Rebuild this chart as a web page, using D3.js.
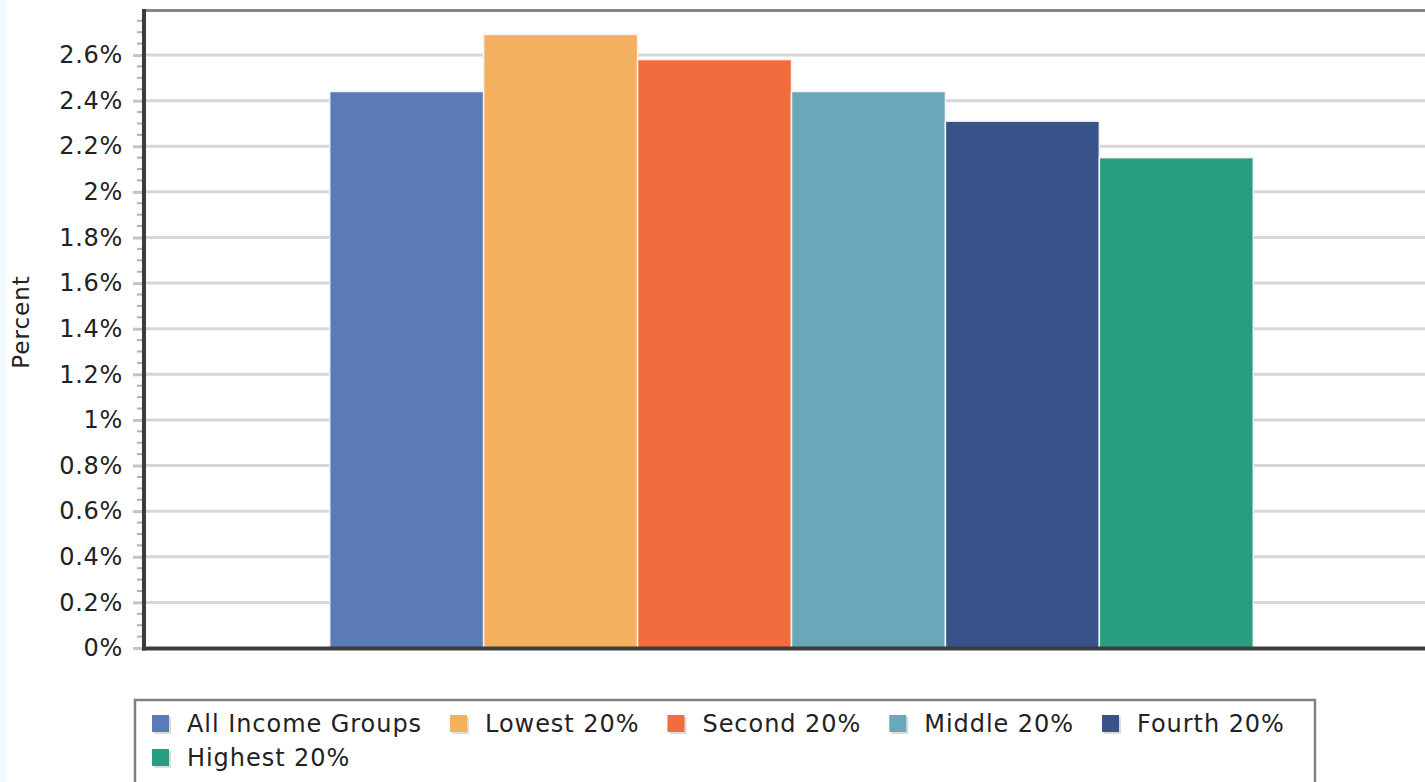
<!DOCTYPE html>
<html>
<head>
<meta charset="utf-8">
<script src="https://cdn.jsdelivr.net/npm/d3@7"></script>
<style>
  body { margin: 0; background: #fff; overflow: hidden; }
  svg text { font-family: "DejaVu Sans", Verdana, sans-serif; fill: #222; }
</style>
</head>
<body>
<svg id="chart"></svg>
<script>
(function() {

// data
const groups = ["Income"];
const seriesNames = ["All Income Groups", "Lowest 20%", "Second 20%", "Middle 20%", "Fourth 20%", "Highest 20%"];
const seriesValues = [2.44, 2.69, 2.58, 2.44, 2.31, 2.15];
const yTickValues = [0, 0.2, 0.4, 0.6, 0.8, 1.0, 1.2, 1.4, 1.6, 1.8, 2.0, 2.2, 2.4, 2.6];

const seriesColors = ["#5b7bb8", "#f3b05f", "#f36c3e", "#69a8b9", "#38528a", "#279e7f"];

const width = 1425, height = 782;
const plot = { left: 145, right: 1438, top: 9.4, bottom: 648 };

const svg = d3.select("#chart")
    .attr("width", width)
    .attr("height", height);

svg.append("rect")
    .attr("x", 0).attr("y", 0)
    .attr("width", 7).attr("height", height)
    .attr("fill", "#f4fafd");

const y = d3.scaleLinear().domain([0, 2.8]).range([plot.bottom, plot.top]);
const x0 = d3.scaleBand().domain(groups).range([plot.left, plot.right])
    .paddingInner(0).paddingOuter(0.2);
const x1 = d3.scaleBand().domain(seriesNames).range([0, x0.bandwidth()]);

// gridlines
svg.append("g")
    .selectAll("line")
    .data(yTickValues.filter(d => d > 0))
    .enter().append("line")
    .attr("x1", plot.left)
    .attr("x2", plot.right)
    .attr("y1", d => y(d))
    .attr("y2", d => y(d))
    .attr("stroke", "#d6d6d6")
    .attr("stroke-width", 3);

// bars
const data = seriesNames.map((name, i) => ({ group: groups[0], name: name, value: seriesValues[i], color: seriesColors[i] }));

svg.append("g")
    .selectAll(".bar")
    .data(data)
    .enter().append("rect")
    .attr("class", "bar")
    .attr("x", d => x0(d.group) + x1(d.name))
    .attr("y", d => y(d.value))
    .attr("width", x1.bandwidth())
    .attr("height", d => y(0) - y(d.value))
    .attr("fill", d => d.color)
    .attr("stroke", "#f2f2f2")
    .attr("stroke-width", 1.5);

// minor ticks
svg.append("g")
    .selectAll("line")
    .data(y.ticks(56).filter(d => Math.abs(d * 5 - Math.round(d * 5)) > 1e-6))
    .enter().append("line")
    .attr("x1", 137)
    .attr("x2", 143)
    .attr("y1", d => y(d))
    .attr("y2", d => y(d))
    .attr("stroke", "#b0b0b0")
    .attr("stroke-width", 2);

// Y-axis
const yAxis = svg.append("g")
    .attr("transform", `translate(${plot.left - 1},0)`)
    .call(d3.axisLeft(y)
        .tickValues(yTickValues)
        .tickSize(11)
        .tickPadding(10)
        .tickFormat(d => `${+d.toFixed(1)}%`));
yAxis.select(".domain").remove();
yAxis.selectAll(".tick line").attr("stroke", "#c4c4c4").attr("stroke-width", 3);
yAxis.selectAll(".tick text")
    .attr("font-size", "24px")
    .attr("letter-spacing", "0.7px")
    .attr("font-family", null)
    .attr("fill", "#222");

// frame lines
svg.append("line")
    .attr("x1", plot.left - 1).attr("x2", plot.right)
    .attr("y1", 10.5).attr("y2", 10.5)
    .attr("stroke", "#858585").attr("stroke-width", 3);
svg.append("line")
    .attr("x1", plot.left - 1).attr("x2", plot.left - 1)
    .attr("y1", 9).attr("y2", plot.bottom + 2.5)
    .attr("stroke", "#3c3c3c").attr("stroke-width", 4);
svg.append("line")
    .attr("x1", plot.left - 3).attr("x2", plot.right)
    .attr("y1", plot.bottom + 0.5).attr("y2", plot.bottom + 0.5)
    .attr("stroke", "#3c3c3c").attr("stroke-width", 4);

svg.append("text")
    .attr("transform", `translate(29,322) rotate(-90)`)
    .attr("text-anchor", "middle")
    .attr("font-size", "23px")
    .attr("letter-spacing", "1px")
    .text("Percent");

// legend
const legend = svg.append("g");
legend.append("rect")
    .attr("x", 135).attr("y", 700)
    .attr("width", 1180).attr("height", 130)
    .attr("fill", "#fff")
    .attr("stroke", "#808080")
    .attr("stroke-width", 2.5);

let lx = 152, ly = 715;
data.forEach(d => {
    const item = legend.append("g");
    const label = item.append("text")
        .attr("font-size", "24px")
        .attr("letter-spacing", "0.95px")
        .text(d.name);
    const w = label.node().getComputedTextLength();
    if (lx + 35 + w > 1300) { lx = 152; ly += 34; }
    item.attr("transform", `translate(${lx},${ly})`);
    item.insert("rect", "text")
        .attr("x", 2).attr("y", 2)
        .attr("width", 17).attr("height", 17)
        .attr("fill", "#dcdcdc");
    item.insert("rect", "text")
        .attr("width", 17).attr("height", 17)
        .attr("fill", d.color);
    label.attr("x", 35).attr("y", 17);
    lx += 35 + w + 28;
});

})();
</script>
</body>
</html>
